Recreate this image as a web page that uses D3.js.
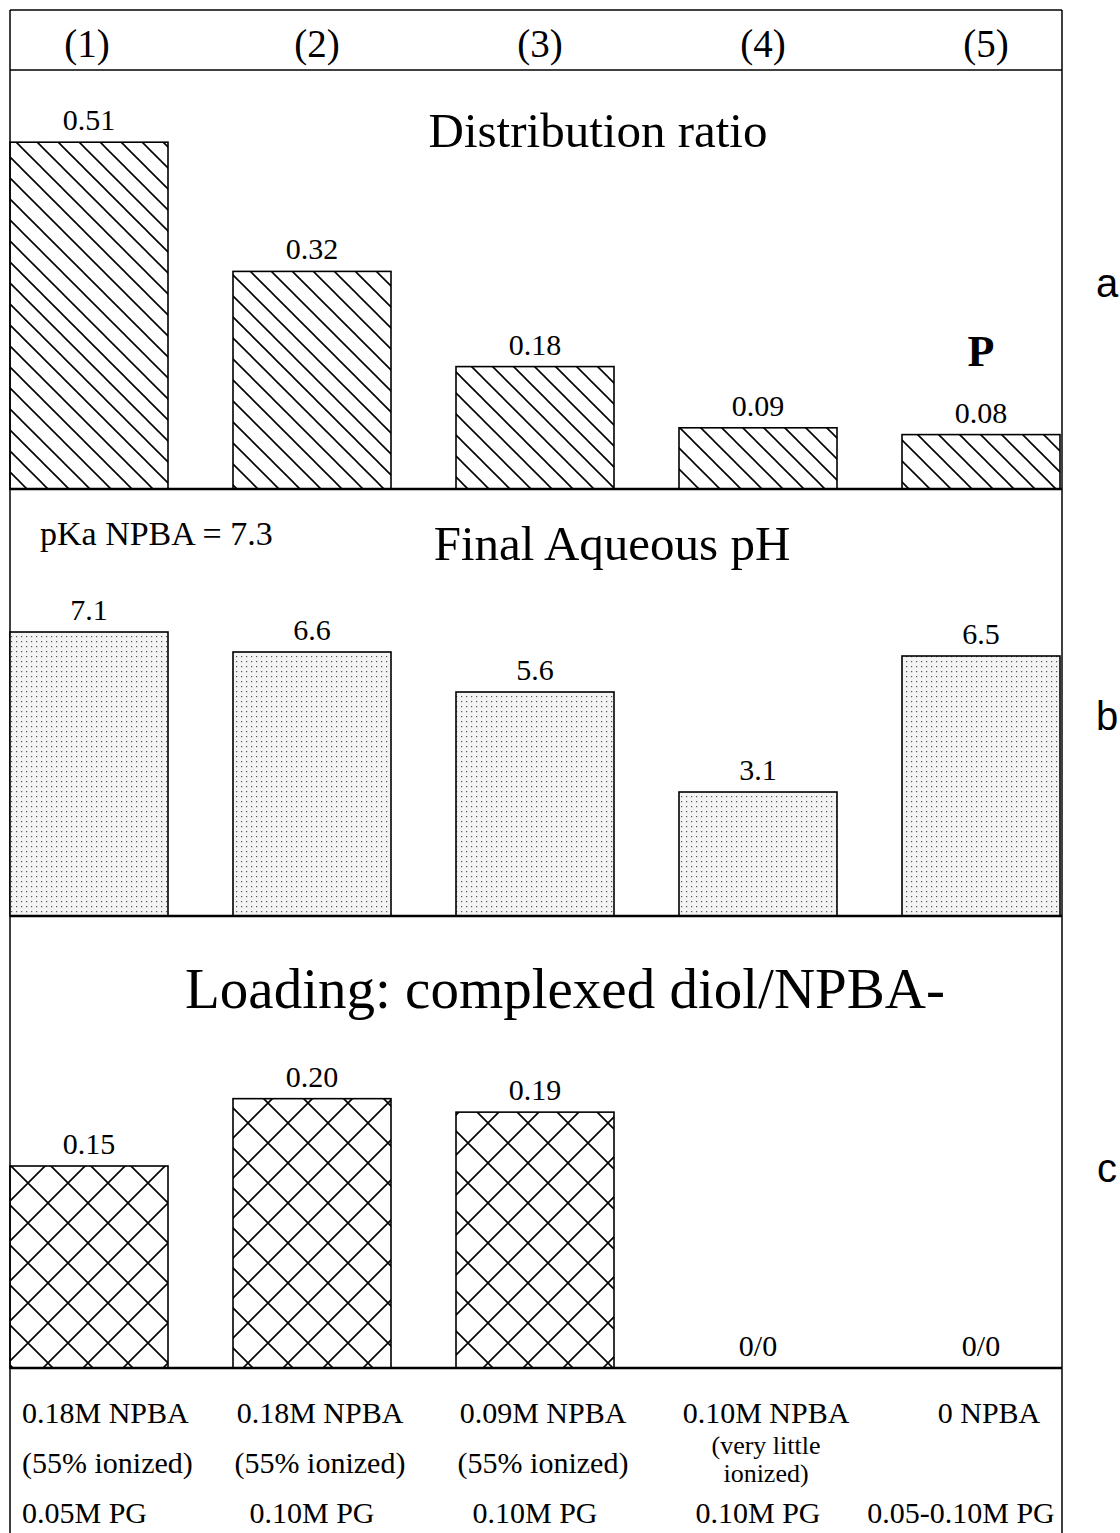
<!DOCTYPE html>
<html>
<head>
<meta charset="utf-8">
<script src="https://cdn.jsdelivr.net/npm/d3@7"></script>
<style>
  body { margin: 0; background: #fff; }
  svg { display: block; font-family: "Liberation Serif", "Times New Roman", serif; }
</style>
</head>
<body>
<div id="chart"></div>
<script>
const conditions = ['(1)', '(2)', '(3)', '(4)', '(5)'];
const distributionRatio = [0.51, 0.32, 0.18, 0.09, 0.08];
const finalPH = [7.1, 6.6, 5.6, 3.1, 6.5];
const loading = [0.15, 0.20, 0.19, 0, 0];
const loadingLabels = ['0.15', '0.20', '0.19', '0/0', '0/0'];
const npbaLabels = ['0.18M NPBA', '0.18M NPBA', '0.09M NPBA', '0.10M NPBA', '0 NPBA'];
const ionizedLabels = [['(55% ionized)'], ['(55% ionized)'], ['(55% ionized)'], ['(very little', 'ionized)'], []];
const pgLabels = ['0.05M PG', '0.10M PG', '0.10M PG', '0.10M PG', '0.05-0.10M PG'];

const width = 1120, height = 1533;
const left = 10, right = 1062;

const svg = d3.select('#chart').append('svg')
    .attr('width', width)
    .attr('height', height);

const defs = svg.append('defs');

// diagonal hatch for panel a
const hatch = defs.append('pattern')
    .attr('id', 'hatch')
    .attr('patternUnits', 'userSpaceOnUse')
    .attr('width', 21).attr('height', 21);
hatch.append('path')
    .attr('d', 'M0,0 L21,21 M-6,15 L6,27 M15,-6 L27,6')
    .attr('stroke', '#000').attr('stroke-width', 1.6);

// fine dots for panel b
const dots = defs.append('pattern')
    .attr('id', 'dots')
    .attr('patternUnits', 'userSpaceOnUse')
    .attr('width', 5).attr('height', 5);
dots.append('rect').attr('width', 5).attr('height', 5).attr('fill', '#f4f4f4');
dots.append('rect').attr('x', 1).attr('y', 1).attr('width', 1.2).attr('height', 1.2).attr('fill', '#555');

// crosshatch for panel c
const cross = defs.append('pattern')
    .attr('id', 'cross')
    .attr('patternUnits', 'userSpaceOnUse')
    .attr('x', 8).attr('y', 1163)
    .attr('width', 40).attr('height', 40);
cross.append('path')
    .attr('d', 'M0,0 L40,40 M40,0 L0,40')
    .attr('stroke', '#000').attr('stroke-width', 1.6);

const x = d3.scaleBand()
    .domain(conditions)
    .range([left, 1060])
    .paddingInner(65 / 223)
    .paddingOuter(0);

const cx = d => x(d) + x.bandwidth() / 2;

// frame
const frame = svg.append('g').attr('stroke', '#000').attr('fill', 'none');
frame.append('line').attr('x1', left).attr('x2', left).attr('y1', 10).attr('y2', height).attr('stroke-width', 1.5);
frame.append('line').attr('x1', right).attr('x2', right).attr('y1', 10).attr('y2', height).attr('stroke-width', 1.5);
frame.append('line').attr('x1', left).attr('x2', right).attr('y1', 10).attr('y2', 10).attr('stroke-width', 1.5);
frame.append('line').attr('x1', left).attr('x2', right).attr('y1', 70).attr('y2', 70).attr('stroke-width', 1.5);

// header labels
svg.append('g').selectAll('text')
    .data(conditions)
    .enter().append('text')
    .attr('x', (d, i) => cx(d) + (i === 0 ? -2 : 5))
    .attr('y', 57)
    .attr('text-anchor', 'middle')
    .style('font-size', '39px')
    .text(d => d);

function panel(values, labels, y, fill) {
    const g = svg.append('g');
    const rows = values.map((v, i) => ({ key: conditions[i], v: v, label: labels[i] }));
    g.selectAll('rect')
        .data(rows)
        .enter().append('rect')
        .attr('x', d => x(d.key))
        .attr('y', d => y(d.v))
        .attr('width', x.bandwidth())
        .attr('height', d => y(0) - y(d.v))
        .attr('fill', fill)
        .attr('stroke', d => d.v > 0 ? '#000' : 'none')
        .attr('stroke-width', 1.6);
    g.selectAll('.val')
        .data(rows)
        .enter().append('text')
        .attr('class', 'val')
        .attr('x', d => cx(d.key))
        .attr('y', d => y(d.v) - 12)
        .attr('text-anchor', 'middle')
        .style('font-size', '30px')
        .text(d => d.label);
    g.append('line')
        .attr('x1', left).attr('x2', right)
        .attr('y1', y(0)).attr('y2', y(0))
        .attr('stroke', '#000').attr('stroke-width', 2.5);
    return g;
}

const sideLabel = (g, t, px, py) => g.append('text')
    .attr('x', px).attr('y', py)
    .attr('text-anchor', 'middle')
    .style('font-family', '"Liberation Sans", Arial, sans-serif')
    .style('font-size', '40px')
    .text(t);

// panel a: distribution ratio
const yA = d3.scaleLinear().domain([0, 0.6]).range([489, 81]);
const gA = panel(distributionRatio, distributionRatio.map(d => d3.format('.2f')(d)), yA, 'url(#hatch)');
gA.append('text').attr('x', 598).attr('y', 147).attr('text-anchor', 'middle')
    .style('font-size', '49px').text('Distribution ratio');
gA.append('text').attr('x', cx('(5)')).attr('y', 366).attr('text-anchor', 'middle')
    .style('font-size', '44px').style('font-weight', 'bold').text('P');
sideLabel(gA, 'a', 1107, 297);

// panel b: final aqueous pH
const yB = d3.scaleLinear().domain([0, 10]).range([916, 516]);
const gB = panel(finalPH, finalPH.map(d => d3.format('.1f')(d)), yB, 'url(#dots)');
gB.append('text').attr('x', 612).attr('y', 560).attr('text-anchor', 'middle')
    .style('font-size', '49px').text('Final Aqueous pH');
gB.append('text').attr('x', 40).attr('y', 545)
    .style('font-size', '34px').text('pKa NPBA = 7.3');
sideLabel(gB, 'b', 1107, 730);

// panel c: loading
const yC = d3.scaleLinear().domain([0, 0.3]).range([1368, 964]);
const gC = panel(loading, loadingLabels, yC, 'url(#cross)');
gC.append('text').attr('x', 565).attr('y', 1008).attr('text-anchor', 'middle')
    .style('font-size', '57px').text('Loading: complexed diol/NPBA-');
sideLabel(gC, 'c', 1107, 1182);

// condition descriptions under the chart
const desc = svg.append('g').style('font-size', '30px');
const descX = (d, i) => i === 0 ? left + 12 : cx(d) + 8;
const descAnchor = (d, i) => i === 0 ? 'start' : 'middle';

desc.selectAll('.npba')
    .data(conditions)
    .enter().append('text')
    .attr('x', descX)
    .attr('y', 1423)
    .attr('text-anchor', descAnchor)
    .text((d, i) => npbaLabels[i]);

conditions.forEach((d, i) => {
    const lines = ionizedLabels[i];
    const multi = lines.length > 1;
    lines.forEach((t, j) => {
        desc.append('text')
            .attr('x', descX(d, i))
            .attr('y', multi ? 1454 + j * 28 : 1473)
            .attr('text-anchor', descAnchor(d, i))
            .style('font-size', multi ? '26px' : null)
            .text(t);
    });
});

desc.selectAll('.pg')
    .data(conditions)
    .enter().append('text')
    .attr('x', (d, i) => i === 0 ? left + 12 : i === 4 ? cx(d) - 20 : cx(d))
    .attr('y', 1523)
    .attr('text-anchor', descAnchor)
    .text((d, i) => pgLabels[i]);
</script>
</body>
</html>
